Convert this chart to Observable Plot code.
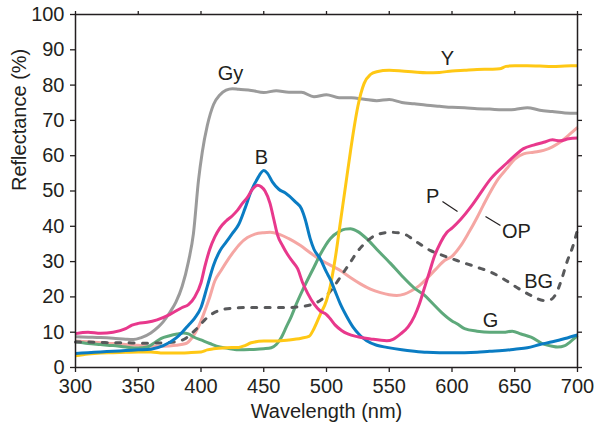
<!DOCTYPE html>
<html><head><meta charset="utf-8">
<script src="https://cdn.jsdelivr.net/npm/d3@7"></script>
<script src="https://cdn.jsdelivr.net/npm/@observablehq/plot@0.6"></script>
<style>body{margin:0;background:#fff}</style>
</head><body><div id="chart"></div>
<script>
// Gy (gray)
const gyNm  = [300,310,320,330,340,346,352,360,366,370,375,380,385,390,394,398,401,405,410,415,420,425,430,440,450,460,470,480,490,500,510,520,530,540,550,560,570,580,590,600,610,620,630,640,650,660,670,680,690,700];
const gyVal = [8.7,8.6,8.5,8.3,8.0,7.9,8.4,9.8,11.5,13,15.5,18.5,23,30,38,53,61,68.5,74.5,77.2,78.6,79,78.8,78.5,77.9,78.4,78,78,76.7,77.3,76.4,76.4,76,75.6,75.9,75.1,74.7,74.3,74,73.7,73.6,73.3,73.2,73,73.1,73.6,72.9,72.5,72.1,72];
// Y (yellow)
const yNm  = [300,310,320,330,340,350,360,370,380,390,400,405,410,420,430,435,440,450,460,470,480,486,490,495,500,503,507,511,515,519,522,525,530,535,540,550,560,570,580,590,600,610,620,630,638,643,650,660,670,680,690,700];
const yVal = [3.3,3.8,4.1,4.2,4.3,4.4,4.4,4.1,4.1,4.2,4.4,5,5.3,5.6,5.7,6.2,7,7.5,7.5,7.8,8.3,8.8,11,15,19,23,31,41,51,61,68,74,80.5,83,83.8,84.2,84,83.7,83.5,83.6,84,84.2,84.4,84.5,84.6,85.3,85.5,85.5,85.4,85.3,85.4,85.5];
// B (blue)
const bNm  = [300,310,320,330,340,350,360,370,380,385,390,395,400,405,410,415,420,425,430,435,440,445,450,453,457,462,467,475,480,483,487,490,495,500,503,507,511,516,521,527,532,540,548,560,570,580,590,600,610,620,630,640,650,660,670,680,690,700];
const bVal = [4,4.2,4.4,4.6,4.8,5,5.2,6.2,8.3,10,12,14,17,23,29,33,35.5,38,40.5,45,50,53.5,55.8,55,52.5,50.5,49.5,47,45,42,36.5,33.5,30.8,27,25,21.5,18,14.5,11.5,9,7.6,6.3,5.7,5,4.6,4.3,4.2,4.2,4.2,4.3,4.6,4.8,5.2,5.6,6.5,7.3,8.2,9.2];
// P (magenta)
const pNm  = [300,310,320,330,340,345,350,357,365,375,385,390,395,400,403,407,411,415,420,425,429,433,437,441,445,448,451,455,458,461,465,469,473,477,481,485,490,495,500,503,507,512,517,525,535,548,553,559,565,570,574,578,582,586,591,596,600,607,615,620,631,644,650,657,665,673,680,686,693,700];
const pVal = [9.6,10,9.7,10,11,12,12.5,12.8,13.5,15,17,17.8,20,24,28.5,33.5,37,39.5,41.5,43,44.5,46.5,48.2,50.5,51.6,51.2,50,46.5,42,37.5,34.5,32,30,28,24,21,18,16,15,13.8,12,10.5,9.5,8.7,8.1,7.6,8,9.5,11.5,14.5,18,22.5,27,31.5,35.5,38.3,39.5,42,45.5,48,53.5,58,60,62,63,63.8,64.5,64.2,64.8,65];
// OP (light pink)
const opNm  = [300,310,320,330,340,350,360,370,380,388,393,398,403,407,411,416,421,426,431,437,443,450,455,462,470,479,487,495,503,511,519,527,535,543,550,556,562,567,574,580,587,594,600,607,613,620,625,631,637,644,650,657,665,673,680,686,693,700];
const opVal = [7.5,7.3,7,6.8,6.5,6.3,6,6,6.3,6.8,8.5,11.5,16,20,24.5,27.5,30.3,32.8,35,36.8,37.8,38.2,38.3,37.8,36.5,34.6,32.5,30.5,29,27.5,25.5,23.7,22.2,21.2,20.6,20.4,20.8,21.6,23.2,25.2,27.8,30.3,31.5,34.5,38,42.5,46,50,53.5,56.5,59,60.5,61,61.5,62.5,63.8,65.8,68];
// G (green)
const gNm  = [300,310,320,330,340,350,357,362,368,375,381,386,390,395,400,407,415,422,431,440,450,456,460,464,468,472,476,482,490,495,503,510,515,519,525,532,540,551,560,570,578,585,592,600,604,610,620,630,641,648,655,663,673,680,684,690,694,700];
const gVal = [7.3,6.8,6.5,6.2,5.8,5.5,5.8,6.8,8.2,9,9.5,9.8,9.5,8.5,7.8,6.8,5.8,5.4,5,5.1,5.3,5.6,6.5,8.5,11.5,14.5,18,22.7,28.4,32,36.5,38.5,39.2,39.3,38.5,36.5,33.5,29.5,26,22.5,20.5,18,15.5,13.2,12.4,11,10.3,10,10,10.3,9.5,8.6,6.6,6,5.8,6.2,7.2,9];
// BG (dark gray, dashed)
const bgNm  = [300,310,320,330,340,350,360,370,380,388,393,398,403,408,415,425,440,455,470,480,488,495,500,505,511,519,525,530,540,551,561,572,583,593,604,620,631,641,652,663,673,679,683,687,692,696,700];
const bgVal = [7.2,7.2,7.1,7,7,6.9,6.9,7,7.3,8.3,9.8,11.5,13.5,15,16.2,16.8,17,17,17,17.3,17.8,19,20.4,22.5,25.6,29.8,33,35,37.6,38.3,37.9,35.5,33.1,31.7,30.3,28.4,27,25.1,22.6,20.4,19,19.3,21,24.6,30.3,34,39];

const xTicks = [300,350,400,450,500,550,600,650,700];
const yTicks = [0,10,20,30,40,50,60,70,80,90,100];

// curve labels
const labelText = ["Gy","B","Y","P","OP","BG","G"];
const labelNm   = [423.5,448.2,596.4,584.5,651.4,669,630.7];
const labelVal  = [83.3,59.5,87.5,48.4,38.5,24.4,13.3];

const series = [
  {name:"Gy", nm:gyNm, val:gyVal, color:"#9b9b9b", dash:null},
  {name:"OP", nm:opNm, val:opVal, color:"#f5a6a3", dash:null},
  {name:"G",  nm:gNm,  val:gVal,  color:"#5ea97b", dash:null},
  {name:"BG", nm:bgNm, val:bgVal, color:"#58595b", dash:"5,8.4"},
  {name:"Y",  nm:yNm,  val:yVal,  color:"#ffc815", dash:null},
  {name:"B",  nm:bNm,  val:bVal,  color:"#0a7cc3", dash:null},
  {name:"P",  nm:pNm,  val:pVal,  color:"#e8388c", dash:null}
];

const lineMarks = series.map(s => {
  const rows = s.nm.map((x, i) => ({nm: x, v: s.val[i]}));
  return Plot.line(rows, {x: "nm", y: "v", stroke: s.color, strokeWidth: 3,
    curve: "monotone-x", strokeDasharray: s.dash || undefined,
    strokeLinecap: s.dash ? "round" : "butt", strokeLinejoin: "round"});
});

const labels = labelText.map((t, i) => ({t, nm: labelNm[i], v: labelVal[i]}));
const leaders = [
  {x1: 592.4, y1: 47, x2: 604.4, y2: 44.2},
  {x1: 638.6, y1: 40.2, x2: 626.7, y2: 42.8}
];

const font = "'Liberation Sans', Arial, Helvetica, sans-serif";
const ink = "#231f20";

const chart = Plot.plot({
  width: 597, height: 431,
  marginLeft: 75, marginRight: 20, marginTop: 14, marginBottom: 64,
  x: {domain: [300, 700]},
  y: {domain: [0, 100]},
  style: {fontFamily: font, fontSize: "20px", color: ink, background: "#fff"},
  marks: [
    ...lineMarks,
    Plot.axisX({ticks: xTicks, tickSize: 5, tickPadding: 6, label: null, fontSize: 20, stroke: ink, fill: ink, strokeWidth: 1.3}),
    Plot.axisX({anchor: "top", ticks: xTicks, tickSize: 4, tickFormat: () => "", label: null, stroke: ink, strokeWidth: 1.3}),
    Plot.axisY({ticks: yTicks, tickSize: 5, tickPadding: 6, label: null, fontSize: 20, stroke: ink, fill: ink, strokeWidth: 1.3}),
    Plot.axisY({anchor: "right", ticks: yTicks, tickSize: 4, tickFormat: () => "", label: null, stroke: ink, strokeWidth: 1.3}),
    Plot.frame({stroke: ink, strokeWidth: 1.5}),
    Plot.text(labels, {x: "nm", y: "v", text: "t", fontSize: 20, fill: ink}),
    Plot.link(leaders, {x1: "x1", y1: "y1", x2: "x2", y2: "y2", stroke: ink, strokeWidth: 1.2}),
    Plot.text(["Wavelength (nm)"], {text: d => d, frameAnchor: "bottom", dy: 50, fontSize: 20, fill: ink}),
    Plot.text(["Reflectance (%)"], {text: d => d, frameAnchor: "left", dx: -56, rotate: -90, fontSize: 20, fill: ink})
  ]
});
document.getElementById("chart").appendChild(chart);
</script>
</body></html>
